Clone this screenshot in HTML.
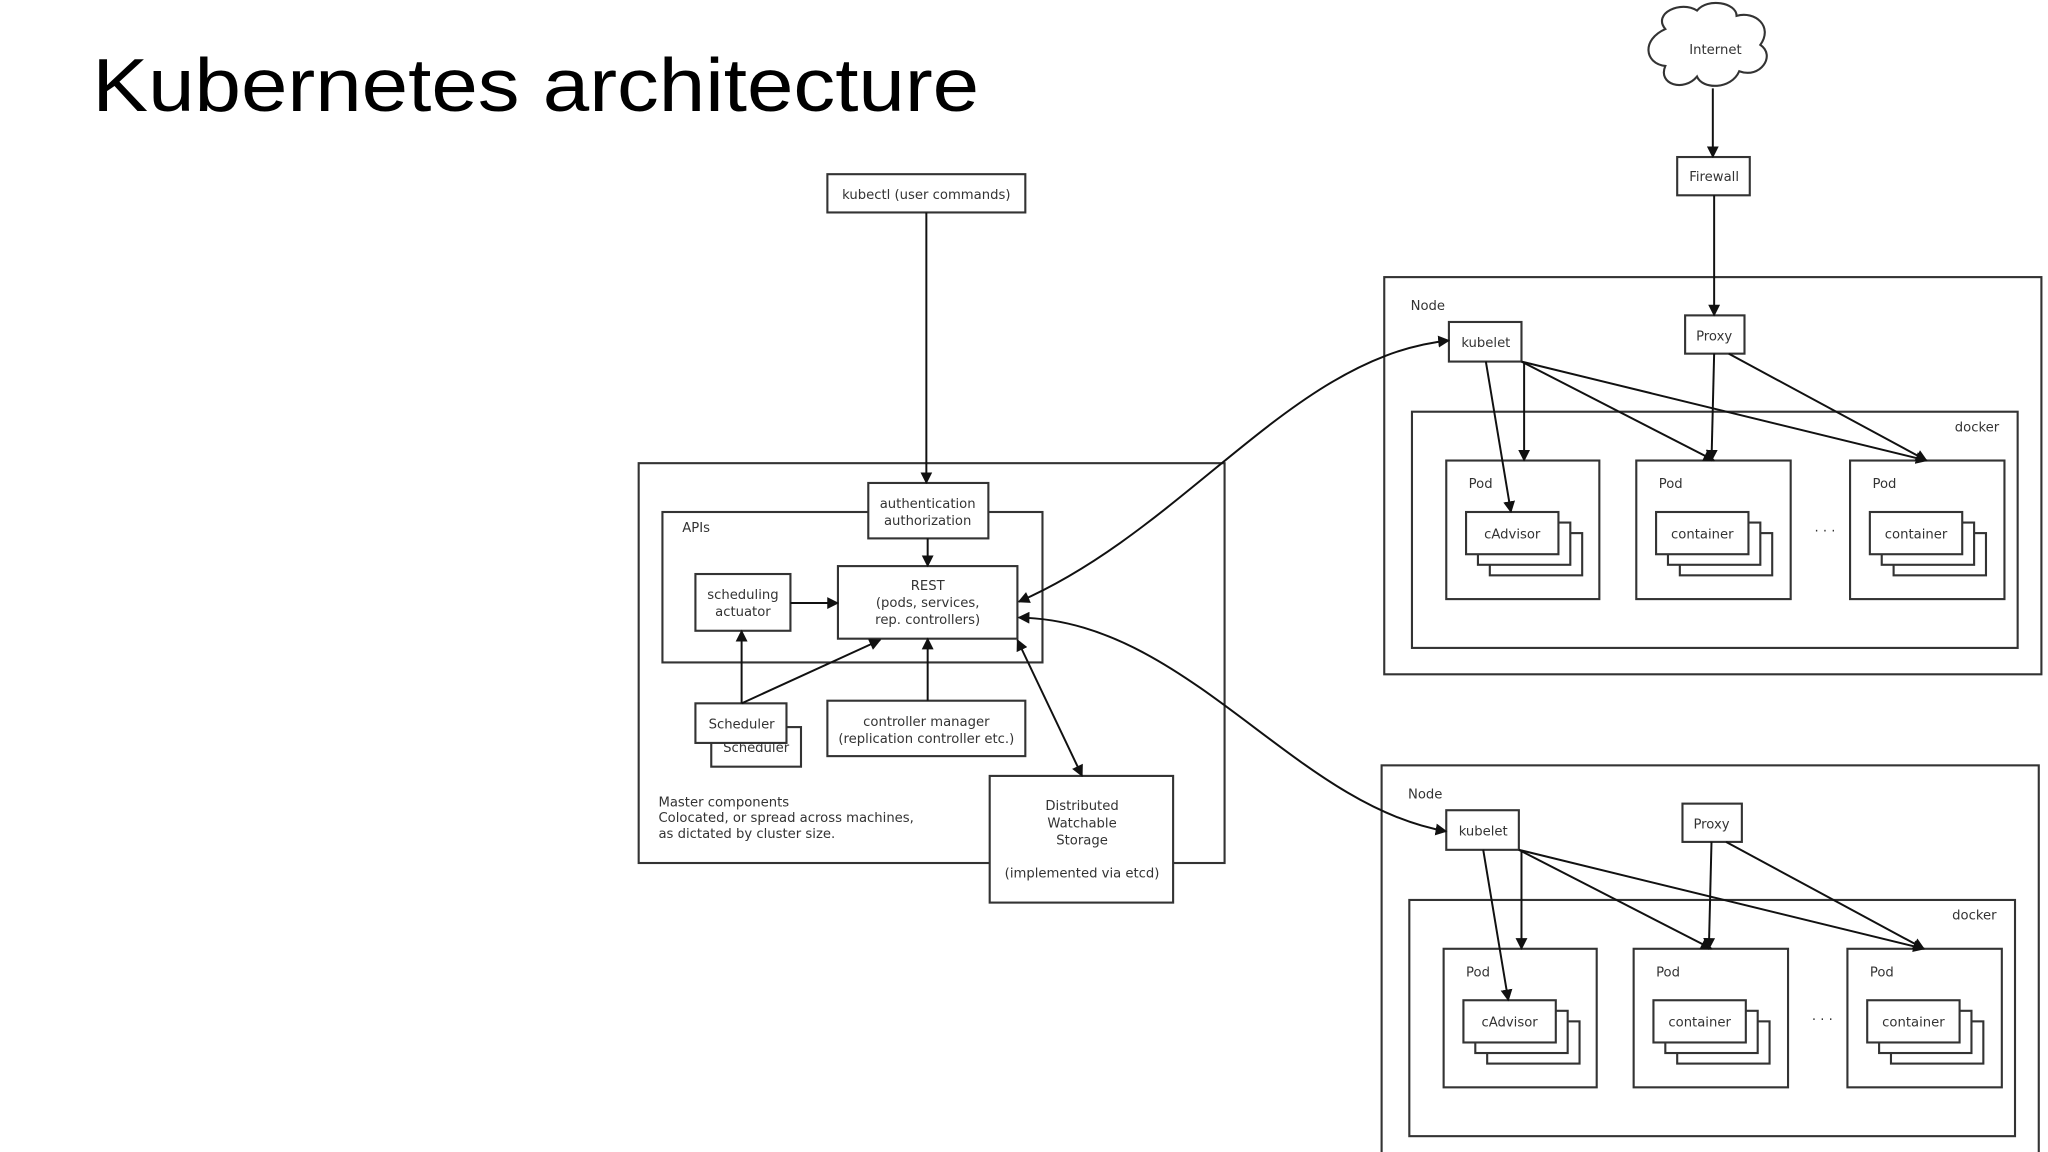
<!DOCTYPE html>
<html><head><meta charset="utf-8"><style>
html,body{margin:0;padding:0;background:#fff;width:2048px;height:1152px;overflow:hidden}
svg text{font-family:"DejaVu Sans","Liberation Sans",sans-serif;fill:#333}
</style></head><body>
<svg width="2048" height="1152" viewBox="0 0 1552 873" preserveAspectRatio="none" xmlns="http://www.w3.org/2000/svg">
<defs>
<marker id="a" viewBox="0 0 10 10" refX="9" refY="5" markerWidth="9" markerHeight="9" orient="auto-start-reverse" markerUnits="userSpaceOnUse"><path d="M0,0 L10,5 L0,10 z" fill="#111"/></marker>
</defs>
<text x="70" y="84" textLength="672" lengthAdjust="spacingAndGlyphs" style="font-family:'Liberation Sans',sans-serif;font-size:57px;fill:#000">Kubernetes architecture</text>
<g id="n1">
<g fill="#fff" stroke="#333" stroke-width="1.6">
<rect x="1049" y="210" width="498" height="301"/>
<rect x="1070" y="312" width="459" height="179"/>
<rect x="1098" y="244" width="55" height="30"/>
<rect x="1277" y="239" width="45" height="29"/>
<rect x="1096" y="349" width="116" height="105"/>
<rect x="1240" y="349" width="117" height="105"/>
<rect x="1402" y="349" width="117" height="105"/>
<rect x="1129" y="404" width="70" height="32"/><rect x="1120" y="396" width="70" height="32"/><rect x="1111" y="388" width="70" height="32"/>
<rect x="1273" y="404" width="70" height="32"/><rect x="1264" y="396" width="70" height="32"/><rect x="1255" y="388" width="70" height="32"/>
<rect x="1435" y="404" width="70" height="32"/><rect x="1426" y="396" width="70" height="32"/><rect x="1417" y="388" width="70" height="32"/>
</g>
<g font-size="10">
<text x="1069" y="235">Node</text>
<text x="1515" y="327" text-anchor="end">docker</text>
<text x="1113" y="370">Pod</text><text x="1257" y="370">Pod</text><text x="1419" y="370">Pod</text>
<g text-anchor="middle">
<text x="1126" y="263">kubelet</text><text x="1299" y="258">Proxy</text>
<text x="1146" y="408">cAdvisor</text><text x="1290" y="408">container</text><text x="1452" y="408">container</text>
<text x="1383" y="406">· · ·</text></g>
</g>
<g stroke="#111" stroke-width="1.5" fill="none" marker-end="url(#a)">
<line x1="1126" y1="274" x2="1145" y2="388"/>
<line x1="1155" y1="274" x2="1155" y2="349"/>
<line x1="1153" y1="274" x2="1299" y2="349"/>
<line x1="1153" y1="274" x2="1460" y2="349"/>
<line x1="1299" y1="268" x2="1297" y2="349"/>
<line x1="1310" y1="268" x2="1460" y2="349"/>
</g>
</g>
<use href="#n1" transform="translate(-2,370)"/>
<g fill="#fff" stroke="#333" stroke-width="1.6">
<rect x="627" y="132" width="150" height="29"/>
<rect x="484" y="351" width="444" height="303"/>
<rect x="502" y="388" width="288" height="114"/>
<rect x="658" y="366" width="91" height="42"/>
<rect x="635" y="429" width="136" height="55"/>
<rect x="527" y="435" width="72" height="43"/>
<rect x="539" y="551" width="68" height="30"/>
<rect x="527" y="533" width="69" height="30"/>
<rect x="627" y="531" width="150" height="42"/>
<rect x="750" y="588" width="139" height="96"/>
<rect x="1271" y="119" width="55" height="29"/>
<path d="M1262,22 C1252,10 1274,0 1286,8 C1294,-2 1316,2 1316,12 C1330,8 1344,20 1334,34 C1346,42 1334,60 1318,54 C1312,68 1290,68 1286,58 C1276,70 1256,64 1262,50 C1246,48 1244,30 1262,22 z"/>
</g>
<g font-size="10" text-anchor="middle">
<text x="702" y="151">kubectl (user commands)</text>
<text x="703" y="385">authentication</text><text x="703" y="398">authorization</text>
<text x="703" y="447">REST</text><text x="703" y="460">(pods, services,</text><text x="703" y="473">rep. controllers)</text>
<text x="563" y="454">scheduling</text><text x="563" y="467">actuator</text>
<text x="573" y="570">Scheduler</text>
<text x="562" y="552">Scheduler</text>
<text x="702" y="550">controller manager</text><text x="702" y="563">(replication controller etc.)</text>
<text x="820" y="614">Distributed</text><text x="820" y="627">Watchable</text><text x="820" y="640">Storage</text>
<text x="820" y="665">(implemented via etcd)</text>
<text x="1299" y="137">Firewall</text>
<text x="1300" y="41">Internet</text>
</g>
<g font-size="10"><text x="517" y="403">APIs</text>
<text x="499" y="611">Master components</text><text x="499" y="623">Colocated, or spread across machines,</text><text x="499" y="635">as dictated by cluster size.</text></g>
<g stroke="#111" stroke-width="1.5" fill="none" marker-end="url(#a)">
<line x1="702" y1="161" x2="702" y2="366"/>
<line x1="703" y1="408" x2="703" y2="429"/>
<line x1="599" y1="457" x2="635" y2="457"/>
<line x1="562" y1="533" x2="562" y2="478"/>
<line x1="562" y1="533" x2="667" y2="485"/>
<line x1="703" y1="531" x2="703" y2="484"/>
<line x1="771" y1="485" x2="820" y2="588" marker-start="url(#a)"/>
<path d="M772,456 C900,400 980,270 1098,258" marker-start="url(#a)"/>
<path d="M772,468 C900,470 980,610 1096,630" marker-start="url(#a)"/>
<line x1="1298" y1="67" x2="1298" y2="119"/>
<line x1="1299" y1="148" x2="1299" y2="239"/>
</g>
</svg>
</body></html>
